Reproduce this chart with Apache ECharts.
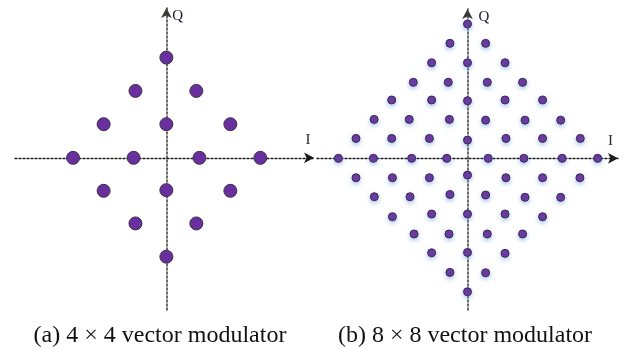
<!DOCTYPE html>
<html>
<head>
<meta charset="utf-8">
<script src="https://cdn.jsdelivr.net/npm/echarts@6/dist/echarts.min.js"></script>
<style>
html,body{margin:0;padding:0;background:#fff;}
#c{width:630px;height:350px;}
</style>
</head>
<body>
<div id="c"></div>
<script>
// (a) 4x4 vector modulator: constellation points (I, Q) in grid steps
var aI = [0, -0.99, 0.96, -2.01, 0, 2.05, -2.99, -1.05, 1.06, 3.01, -2.01, 0, 2.05, -0.99, 0.96, 0];
var aQ = [3.01, 2.01, 2.01, 1.01, 1.01, 1.01, 0, 0, 0, 0, -0.99, -0.97, -0.99, -1.97, -1.97, -2.97];

// (b) 8x8 vector modulator
var bI = [
  0,
  -0.95, 0.98,
  -1.94, 0, 2.03,
  -2.93, -1.04, 1.07, 2.98,
  -4.10, -1.94, 0, 2.03, 4.06,
  -5.05, -3.15, -0.98, 0.98, 3.11, 5.04,
  -6.03, -4.10, -2.06, 0, 2.08, 4.06, 6.10,
  -6.98, -5.09, -3.02, -1.12, 1.12, 3.05, 5.12, 7.04,
  -6.03, -4.06, -2.06, 0, 2.08, 4.06, 6.08,
  -5.04, -3.11, -0.95, 0.98, 3.11, 5.04,
  -4.06, -1.94, 0, 2.03, 4.06,
  -2.89, -1.00, 1.07, 2.98,
  -1.94, 0, 2.03,
  -0.95, 0.98,
  0
];
var bQ = [
  7.00,
  5.99, 5.99,
  4.98, 4.98, 4.98,
  3.96, 3.96, 3.96, 3.96,
  3.04, 3.04, 3.00, 3.04, 3.04,
  2.03, 2.03, 2.03, 1.99, 1.99, 1.99,
  1.04, 1.04, 1.04, 0.95, 1.04, 1.04, 1.04,
  0, 0, 0, 0, 0, 0, 0, 0,
  -1.01, -1.01, -1.01, -0.87, -1.01, -1.01, -1.01,
  -2.00, -2.00, -1.88, -1.91, -2.03, -2.03,
  -3.04, -2.90, -2.90, -2.90, -3.04,
  -3.94, -3.94, -3.94, -3.94,
  -4.92, -4.90, -4.95,
  -5.94, -5.96,
  -6.95
];

var captions = ['(a) 4 \u00d7 4 vector modulator', '(b) 8 \u00d7 8 vector modulator'];
var axisNames = ['I', 'Q'];

function pairs(xs, ys) {
  return xs.map(function (x, i) { return [x, ys[i]]; });
}

var serif = '"Liberation Serif", "DejaVu Serif", serif';

function xAx(gi, min, max, gap) {
  return {
    type: 'value', gridIndex: gi, min: min, max: max,
    name: axisNames[0], nameLocation: 'end', nameGap: gap,
    nameTextStyle: { fontFamily: serif, fontSize: 15, color: '#2a2a2a', align: 'center', verticalAlign: 'bottom', padding: [0, 0, 10, 0] },
    axisLine: { show: true, onZero: true, symbol: ['none', 'arrow'], symbolSize: [8, 10],
      lineStyle: { color: '#1a1a1a', width: 1.3, type: [2, 2] } },
    axisTick: { show: false }, axisLabel: { show: false }, splitLine: { show: false }
  };
}
function yAx(gi, min, max, pad) {
  return {
    type: 'value', gridIndex: gi, min: min, max: max,
    name: axisNames[1], nameLocation: 'end', nameGap: -8,
    nameTextStyle: { fontFamily: serif, fontSize: 15, color: '#1c1c30', align: 'left', verticalAlign: 'middle', padding: [0, 0, 0, pad] },
    axisLine: { show: true, onZero: true, symbol: ['none', 'arrow'], symbolSize: [8, 10],
      lineStyle: { color: '#3a3a3a', width: 1.5, type: [2, 2] } },
    axisTick: { show: false }, axisLabel: { show: false }, splitLine: { show: false }
  };
}

var chart = echarts.init(document.getElementById('c'), null, { renderer: 'canvas' });
chart.setOption({
  animation: false,
  backgroundColor: '#ffffff',
  grid: [
    { left: 15, top: 8, width: 299, height: 302 },
    { left: 317, top: 9, width: 301, height: 301 }
  ],
  xAxis: [
    xAx(0, -4.85, 4.73, -6),
    xAx(1, -8.14, 8.14, -7.5)
  ],
  yAxis: [
    yAx(0, -4.57, 4.50, 6),
    yAx(1, -7.90, 7.78, 11)
  ],
  series: [
    {
      type: 'scatter', xAxisIndex: 0, yAxisIndex: 0, symbolSize: 13,
      data: pairs(aI, aQ),
      itemStyle: { color: '#6a2f9f', borderColor: '#3c3346', borderWidth: 1, opacity: 1 }
    },
    {
      type: 'scatter', xAxisIndex: 1, yAxisIndex: 1, symbolSize: 8,
      data: pairs(bI, bQ),
      itemStyle: { color: '#6a2f9f', borderColor: '#3a2d48', borderWidth: 1, opacity: 1,
        shadowColor: 'rgba(110,160,225,0.55)', shadowBlur: 4, shadowOffsetY: 2 }
    }
  ],
  graphic: [
    { type: 'text', x: 160, y: 336, style: { text: captions[0], font: '24px ' + serif, fill: '#111', align: 'center', verticalAlign: 'middle' } },
    { type: 'text', x: 465, y: 336, style: { text: captions[1], font: '24px ' + serif, fill: '#111', align: 'center', verticalAlign: 'middle' } }
  ]
});
</script>
</body>
</html>
